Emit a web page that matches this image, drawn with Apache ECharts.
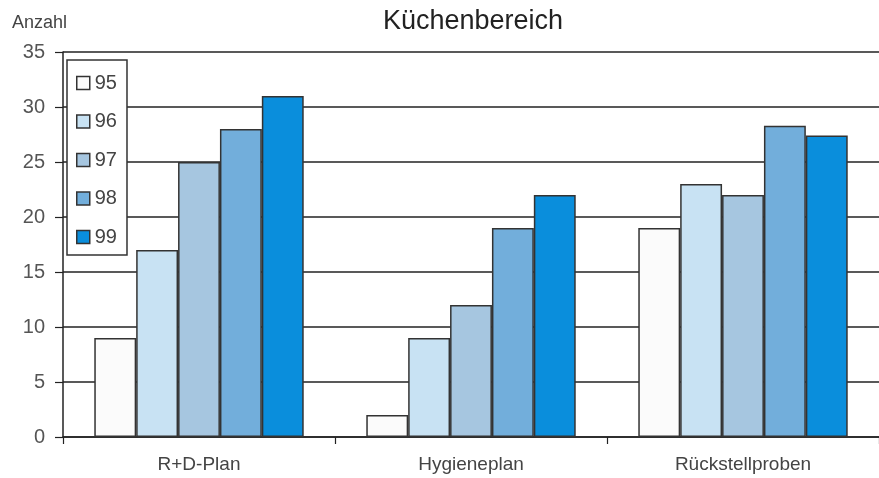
<!DOCTYPE html>
<html>
<head>
<meta charset="utf-8">
<script src="https://cdn.jsdelivr.net/npm/echarts@6/dist/echarts.min.js"></script>
<style>
html,body{margin:0;padding:0;background:#fff;}
#c{width:879px;height:478px;}
</style>
</head>
<body>
<div id="c"></div>
<script>
const categories = ['R+D-Plan', 'Hygieneplan', 'Rückstellproben'];
const years = ['95', '96', '97', '98', '99'];
const s95 = [9, 2, 19];
const s96 = [17, 9, 23];
const s97 = [25, 12, 22];
const s98 = [28, 19, 28.3];
const s99 = [31, 22, 27.4];
const colors = ['#fbfbfb', '#c8e2f3', '#a6c6e0', '#72aedb', '#0a8edc'];
const yTicks = { min: 0, max: 35, interval: 5 };

const FONT = "'Liberation Sans', Arial, sans-serif";
const seriesData = [s95, s96, s97, s98, s99];

const chart = echarts.init(document.getElementById('c'), null, { renderer: 'canvas' });
chart.setOption({
  animation: false,
  backgroundColor: '#fff',
  title: [
    { text: 'Küchenbereich', left: 468, top: 3, textAlign: 'center',
      textStyle: { fontFamily: FONT, fontSize: 27, fontWeight: 'normal', color: '#222' } },
    { text: 'Anzahl', left: 7, top: 9,
      textStyle: { fontFamily: FONT, fontSize: 18, fontWeight: 'normal', color: '#444' } }
  ],
  legend: {
    orient: 'vertical',
    left: 67, top: 60,
    padding: [13, 10, 8, 9],
    itemGap: 18.5,
    itemWidth: 13, itemHeight: 13,
    itemTextGap: 6,
    icon: 'rect',
    backgroundColor: '#fff',
    borderColor: '#333', borderWidth: 1.5,
    data: years,
    textStyle: { fontFamily: FONT, fontSize: 20, color: '#444', lineHeight: 19 },
    itemStyle: { borderColor: '#333', borderWidth: 1.5 }
  },
  grid: { left: 63, top: 52, width: 828, bottom: 41, containLabel: false },
  xAxis: {
    type: 'category',
    data: categories,
    axisLine: { lineStyle: { color: '#222', width: 1.5 } },
    axisTick: { show: true, length: 7, lineStyle: { color: '#222', width: 1.2 } },
    axisLabel: { margin: 18, fontFamily: FONT, fontSize: 19, color: '#444' }
  },
  yAxis: {
    type: 'value',
    min: yTicks.min, max: yTicks.max, interval: yTicks.interval,
    axisLine: { show: true, lineStyle: { color: '#222', width: 1.5 } },
    axisTick: { show: true, length: 8, lineStyle: { color: '#222', width: 1.2 } },
    axisLabel: { margin: 18, fontFamily: FONT, fontSize: 20, color: '#555' },
    splitLine: { show: true, lineStyle: { color: '#222', width: 1.5 } }
  },
  series: years.map((y, i) => ({
    name: y,
    type: 'bar',
    data: seriesData[i],
    barGap: '0%',
    barCategoryGap: '23%',
    itemStyle: { color: colors[i], borderColor: '#333', borderWidth: 1.5 }
  }))
});
</script>
</body>
</html>
